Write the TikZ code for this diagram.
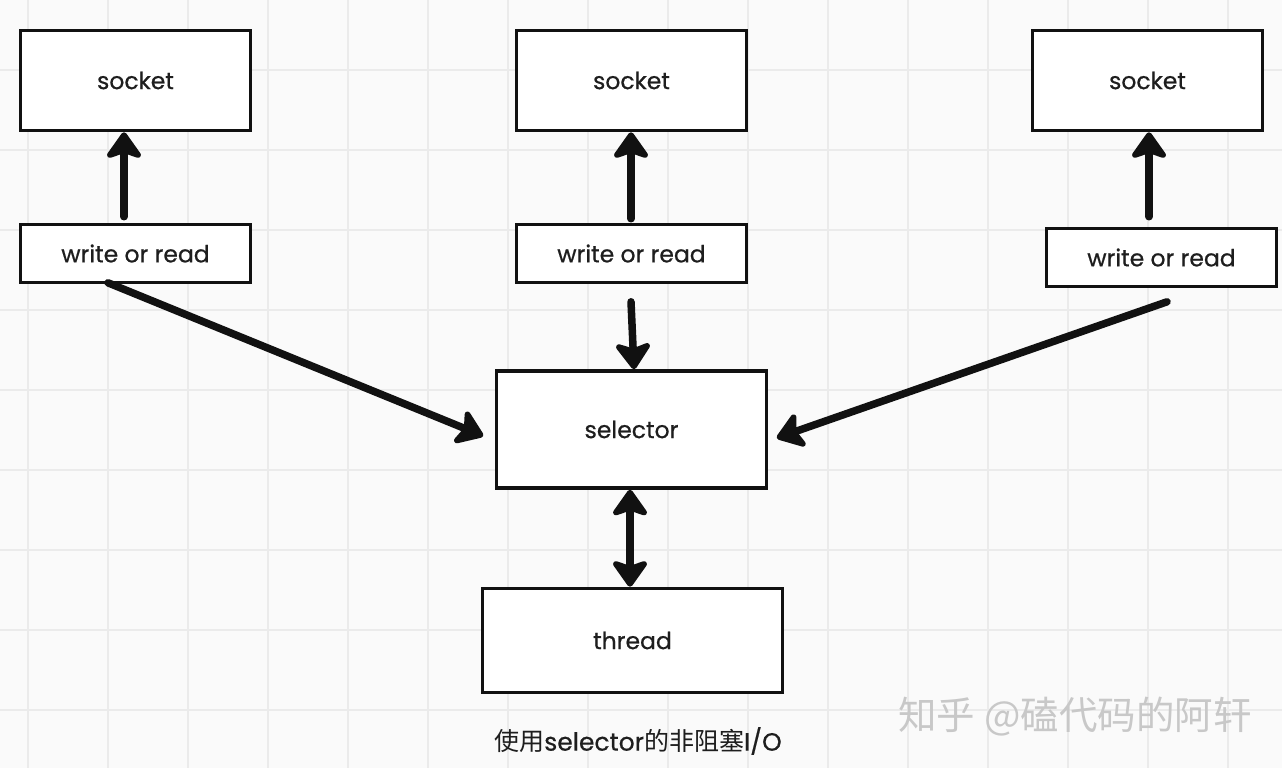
\documentclass[tikz,border=0pt]{standalone}
\usepackage{fontspec}
\setmainfont{Poppins}[FakeBold=0.6]
\newfontfamily\cjk{Noto Sans CJK SC}
\newfontfamily\cjkwm{Noto Sans CJK SC}
\usetikzlibrary{arrows.meta,calc}
\definecolor{bgc}{HTML}{FAFAFA}
\definecolor{gridc}{HTML}{EBEBEB}
\definecolor{inkc}{HTML}{111111}
\definecolor{txtc}{HTML}{1E1E1E}
\definecolor{wmc}{HTML}{C8C8C8}
\tikzset{headtip/.tip={Stealth[length=30pt,width=42pt,inset=7pt,round]}}
\begin{document}
\begin{tikzpicture}[x=1pt,y=-1pt,
  gridline/.style={draw=gridc,line width=1.6pt},
  box/.style={draw=inkc,fill=white,line width=3.6pt,inner sep=0pt,text=txtc,font=\fontsize{23.5}{26}\selectfont},
  bigbox/.style={box,minimum width=230pt,minimum height=100pt},
  rwbox/.style={box,minimum width=230pt,minimum height=58pt},
  arr/.style={draw=inkc,line width=7.5pt,line cap=round,-headtip},
  darr/.style={draw=inkc,line width=7.5pt,line cap=round,headtip-headtip}
]
\fill[bgc] (0,0) rectangle (1282,768);
\useasboundingbox (0,0) rectangle (1282,768);
\foreach \x in {28,108,...,1268} \draw[gridline] (\x,0) -- (\x,768);
\foreach \y in {70,150,...,710} \draw[gridline] (0,\y) -- (1282,\y);

\node[bigbox] (s1) at (135.5,80.5) {socket};
\node[rwbox]  (w1) at (135.5,253.5) {write or read};
\node[bigbox] (s2) at (631.5,80.5) {socket};
\node[rwbox]  (w2) at (631.5,253.5) {write or read};
\node[bigbox] (s3) at (1147.5,80.5) {socket};
\node[rwbox]  (w3) at (1161.5,257.5) {write or read};
\node[box,minimum width=270pt,minimum height=117pt] (sel) at (631.5,429.5) {selector};
\node[box,minimum width=300pt,minimum height=104pt] (th) at (632.5,640.5) {thread};

\draw[arr] ($(w1.north)+(-11.5,-6)$) -- ($(s1.south)+(-11.5,0)$);
\draw[arr] ($(w2.north)+(-0.5,-4)$) -- ($(s2.south)+(-0.5,0)$);
\draw[arr] ($(w3.north)+(-12.5,-10)$) -- ($(s3.south)+(1.5,0)$);
\draw[arr] ($(w1.south)+(-27.5,-1.5)$) -- ($(sel.west)+(-11.5,6.5)$);
\draw[arr] ($(w2.south)+(-0.5,17.5)$) -- ($(sel.north)+(2.5,0)$);
\draw[arr] ($(w3.south)+(5.5,13.5)$) -- ($(sel.east)+(8.5,8.5)$);
\draw[darr] ($(sel.south)+(-1.5,0)$) -- ($(sel.south |- th.north)+(-1.5,0)$);

\node[text=txtc,font=\fontsize{25}{28}\selectfont] (cap) at (638,741) {{\cjk 使用}selector{\cjk 的非阻塞}I/O};
\node[text=wmc,font=\fontsize{38.5}{42}\selectfont\cjkwm] (wm) at (1075,717) {知乎 @磕代码的阿轩};
\end{tikzpicture}
\end{document}
